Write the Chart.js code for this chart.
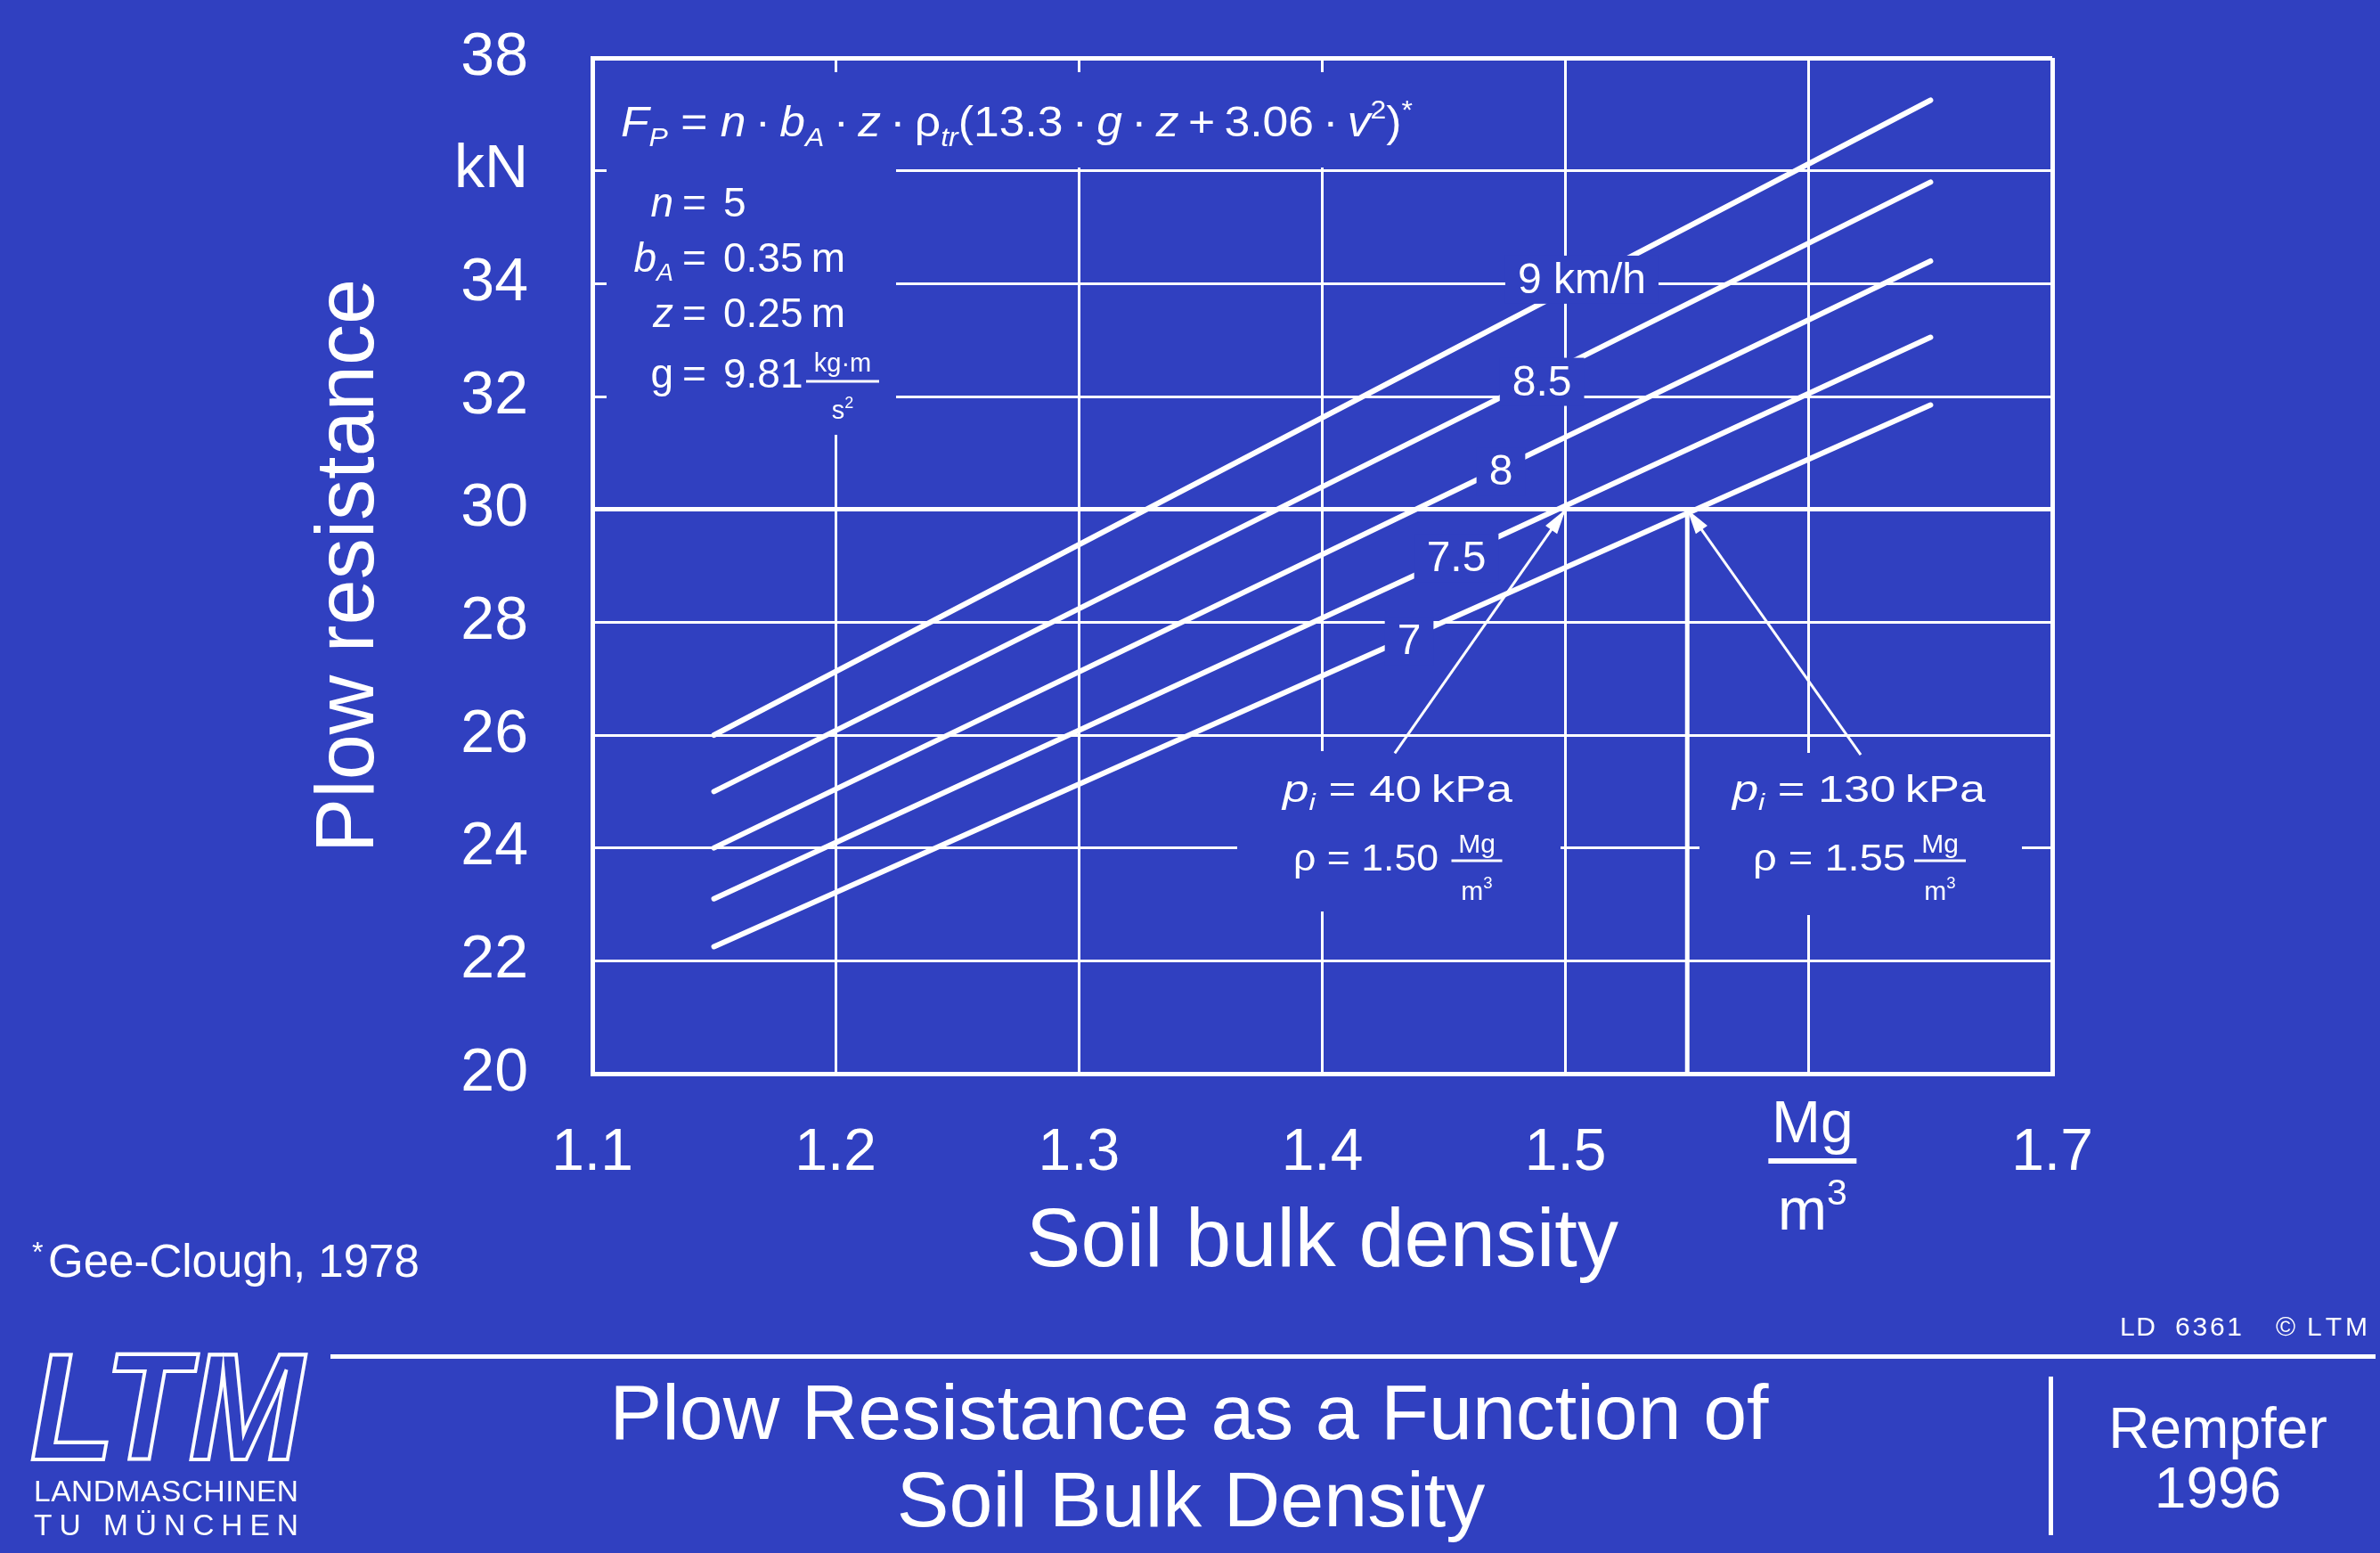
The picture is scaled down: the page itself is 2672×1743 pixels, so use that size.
<!DOCTYPE html>
<html>
<head>
<meta charset="utf-8">
<title>Plow Resistance as a Function of Soil Bulk Density</title>
<script src="https://cdn.jsdelivr.net/npm/chart.js@4.4.1/dist/chart.umd.min.js"></script>
<style>
  html, body { margin: 0; padding: 0; background: #3040c0; }
  canvas { display: block; }
</style>
</head>
<body>
<canvas id="chart-plow" width="2672" height="1743"></canvas>
<script>
const FONT = "'Liberation Sans', Arial, sans-serif";
const BG = '#3040c0';
const FG = '#ffffff';

// soil bulk density at both ends of the speed lines (Mg/m3)
const density = [1.15, 1.65];
// plow resistance (kN) at both ends, one array per speed
const speedLabels = ['9 km/h', '8.5', '8', '7.5', '7'];
const force9 = [26.0, 37.25];
const force85 = [25.0, 35.8];
const force8 = [24.0, 34.4];
const force75 = [23.1, 33.05];
const force7 = [22.25, 31.85];
// where each speed label sits on its line
const labelDensity = [1.5067, 1.4903, 1.4734, 1.4551, 1.4357];
const labelForce = [34.07, 32.26, 30.67, 29.14, 27.67];
// tyre pressure marks (40 kPa -> 1.50, 130 kPa -> 1.55) and arrow tails
const markDensity = [1.50, 1.55];
const markForce = [30, 30];
const arrowTailDensity = [1.4298, 1.6213];
const arrowTailForce = [25.68, 25.65];
// axes
const xTicks = [1.1, 1.2, 1.3, 1.4, 1.5, 1.6, 1.7];
const yTicks = [20, 22, 24, 26, 28, 30, 32, 34, 36, 38];

// draw a run of text pieces: flags i = italic, b = subscript, p = superscript
function rich(ctx, parts, x, y, size, align, fitW) {
    const items = parts.map(function(p) {
        const t = p[0], f = p[1] || '';
        const small = f.includes('b') || f.includes('p');
        const s = small ? size * 0.62 : size;
        const font = (f.includes('i') ? 'italic ' : '') + s + 'px ' + FONT;
        ctx.font = font;
        const dy = f.includes('b') ? size * 0.22 : (f.includes('p') ? -size * 0.42 : 0);
        return { t: t, font: font, w: ctx.measureText(t).width, dy: dy };
    });
    const total = items.reduce(function(a, it) { return a + it.w; }, 0);
    const k = fitW ? fitW / total : 1;
    let cx = align === 'center' ? x - total * k / 2 : (align === 'right' ? x - total * k : x);
    ctx.save();
    ctx.textAlign = 'left';
    ctx.textBaseline = 'alphabetic';
    items.forEach(function(it) {
        ctx.font = it.font;
        ctx.save();
        ctx.translate(cx, y + it.dy);
        ctx.scale(k, 1);
        ctx.fillText(it.t, 0, 0);
        ctx.restore();
        cx += it.w * k;
    });
    ctx.restore();
}

// spread the letters of a text between x0 and x1
function spaced(ctx, text, x0, x1, y) {
    const chars = Array.from(text);
    const ws = chars.map(function(ch) { return ctx.measureText(ch).width; });
    const sum = ws.reduce(function(a, b) { return a + b; }, 0);
    const gap = chars.length > 1 ? (x1 - x0 - sum) / (chars.length - 1) : 0;
    let cx = x0;
    ctx.textAlign = 'left';
    chars.forEach(function(ch, i) { ctx.fillText(ch, cx, y); cx += ws[i] + gap; });
}

function fraction(ctx, num, den, cx, yNum, yBar, yDen, barW, size, barH) {
    rich(ctx, num, cx, yNum, size, 'center');
    rich(ctx, den, cx, yDen, size, 'center');
    ctx.fillRect(cx - barW / 2, yBar - barH / 2, barW, barH);
}

const slidePlugin = {
    id: 'slide',
    beforeDraw: function(chart) {
        const ctx = chart.ctx;
        ctx.save();
        ctx.fillStyle = BG;
        ctx.fillRect(0, 0, chart.width, chart.height);
        ctx.restore();
    },
    beforeDatasetsDraw: function(chart) {
        // cut the grid where the formula and the tyre notes sit
        const ctx = chart.ctx;
        const ca = chart.chartArea;
        ctx.save();
        ctx.fillStyle = BG;
        ctx.fillRect(ca.left + 16, ca.top + 16, 1700 - ca.left - 16, 188 - ca.top - 16);
        ctx.fillRect(ca.left + 16, ca.top + 16, 1006 - ca.left - 16, 488 - ca.top - 16);
        ctx.fillRect(1389, 843, 1752 - 1389, 1023 - 843);
        ctx.fillRect(1908, 845, 2270 - 1908, 1027 - 845);
        ctx.restore();
    },
    afterDatasetsDraw: function(chart) {
        const ctx = chart.ctx;
        const xs = chart.scales.x, ys = chart.scales.y;
        ctx.save();
        // speed labels on their lines
        ctx.font = '48px ' + FONT;
        speedLabels.forEach(function(txt, i) {
            const cx = xs.getPixelForValue(labelDensity[i]);
            const cy = ys.getPixelForValue(labelForce[i]);
            const w = ctx.measureText(txt).width;
            ctx.fillStyle = BG;
            ctx.fillRect(cx - w / 2 - 14, cy - 27, w + 28, 54);
            ctx.fillStyle = FG;
            ctx.textAlign = 'center';
            ctx.textBaseline = 'middle';
            ctx.fillText(txt, cx, cy + 2);
        });
        // arrow heads
        ctx.fillStyle = FG;
        markDensity.forEach(function(d, i) {
            const tx = xs.getPixelForValue(d), ty = ys.getPixelForValue(markForce[i]);
            const sx = xs.getPixelForValue(arrowTailDensity[i]), sy = ys.getPixelForValue(arrowTailForce[i]);
            const a = Math.atan2(ty - sy, tx - sx);
            ctx.beginPath();
            ctx.moveTo(tx, ty);
            ctx.lineTo(tx - 28 * Math.cos(a) + 8 * Math.sin(a), ty - 28 * Math.sin(a) - 8 * Math.cos(a));
            ctx.lineTo(tx - 28 * Math.cos(a) - 8 * Math.sin(a), ty - 28 * Math.sin(a) + 8 * Math.cos(a));
            ctx.closePath();
            ctx.fill();
        });
        ctx.restore();
    },
    afterDraw: function(chart) {
        const ctx = chart.ctx;
        const xs = chart.scales.x;
        ctx.save();
        ctx.fillStyle = FG;
        ctx.strokeStyle = FG;

        // formula
        const dot = '\u2009\u00b7\u2009';
        rich(ctx, [['F', 'i'], ['P', 'ib'], [' = '], ['n', 'i'], [dot], ['b', 'i'], ['A', 'ib'], [dot],
            ['z', 'i'], [dot], ['\u03c1'], ['tr', 'ib'], ['(13.3' + dot], ['g', 'i'], [dot], ['z', 'i'],
            ['\u2009+\u20093.06' + dot], ['v', 'i'], ['2', 'p'], [')'], ['*', 'p']], 697, 153, 48, 'left', 889);

        // parameters
        const eqX = 766, valX = 812;
        [[[['n', 'i']], '5', 243], [[['b', 'i'], ['A', 'ib']], '0.35\u2009m', 305],
         [[['z', 'i']], '0.25\u2009m', 367], [[['g']], '9.81', 435]].forEach(function(row) {
            rich(ctx, row[0], 756, row[2], 46, 'right');
            rich(ctx, [['=']], eqX, row[2], 46, 'left');
            rich(ctx, [[row[1]]], valX, row[2], 46, 'left');
        });
        fraction(ctx, [['kg\u00b7m']], [['s'], ['2', 'p']], 946, 417, 428, 470, 82, 29, 3);

        // tyre notes
        rich(ctx, [['p', 'i'], ['i', 'ib'], [' = 40\u2009kPa']], 1440, 900, 43, 'left', 258);
        rich(ctx, [['\u03c1 = 1.50']], 1452, 977, 43, 'left', 163);
        fraction(ctx, [['Mg']], [['m'], ['3', 'p']], 1658, 957, 966, 1010, 57, 30, 3);
        rich(ctx, [['p', 'i'], ['i', 'ib'], [' = 130\u2009kPa']], 1945, 900, 43, 'left', 284);
        rich(ctx, [['\u03c1 = 1.55']], 1968, 977, 43, 'left', 172);
        fraction(ctx, [['Mg']], [['m'], ['3', 'p']], 2178, 957, 966, 1010, 58, 30, 3);

        // unit in place of the 1.6 tick
        const ux = xs.getPixelForValue(1.6) + 4;
        fraction(ctx, [['Mg']], [['m'], ['3', 'p']], ux, 1282, 1303, 1380, 99, 66, 6);

        // footnote
        rich(ctx, [['*', 'p']], 36, 1438, 52, 'left');
        ctx.font = '51px ' + FONT;
        ctx.textAlign = 'left';
        ctx.fillText('Gee-Clough, 1978', 54, 1433);

        // footer rules
        ctx.fillRect(371, 1520, 2667 - 371, 5);
        ctx.fillRect(2300, 1545, 5, 1723 - 1545);

        // title
        ctx.textAlign = 'center';
        ctx.font = '88px ' + FONT;
        ctx.fillText('Plow Resistance as a Function of', 1335, 1615);
        ctx.fillText('Soil Bulk Density', 1337, 1713);

        // author
        ctx.font = '64px ' + FONT;
        ctx.fillText('Rempfer', 2490, 1625);
        ctx.fillText('1996', 2490, 1692);

        // slide id
        ctx.font = '30px ' + FONT;
        spaced(ctx, 'LD', 2380, 2420, 1499);
        spaced(ctx, '6361', 2442, 2517, 1499);
        ctx.fillText('\u00a9', 2555, 1499);
        spaced(ctx, 'LTM', 2590, 2658, 1499);

        // institute logo
        ctx.font = 'bold italic 165px ' + FONT;
        const m = ctx.measureText('LTM');
        const spanW = m.actualBoundingBoxLeft + m.actualBoundingBoxRight;
        const kx = 308 / spanW, ky = 118 / m.actualBoundingBoxAscent;
        ctx.save();
        ctx.translate(36 + m.actualBoundingBoxLeft * kx, 1638);
        ctx.scale(kx, ky);
        ctx.lineWidth = 4 / ((kx + ky) / 2);
        ctx.lineJoin = 'miter';
        ctx.textAlign = 'left';
        ctx.strokeText('LTM', 0, 0);
        ctx.restore();

        ctx.font = '33.5px ' + FONT;
        spaced(ctx, 'LANDMASCHINEN', 38, 335, 1685);
        spaced(ctx, 'TU M\u00dcNCHEN', 38, 335, 1723);
        ctx.restore();
    }
};

const forces = [force9, force85, force8, force75, force7];
const datasets = forces.map(function(f, i) {
    return {
        label: speedLabels[i],
        data: density.map(function(d, j) { return { x: d, y: f[j] }; }),
        borderColor: FG,
        borderWidth: 6,
        borderCapStyle: 'round',
        pointRadius: 0,
        fill: false
    };
});
// guide line for the 130 kPa point
datasets.push({
    label: 'guide',
    data: [{ x: markDensity[1], y: yTicks[0] }, { x: markDensity[1], y: markForce[1] }],
    borderColor: FG, borderWidth: 5, pointRadius: 0, fill: false
});
// arrow shafts
markDensity.forEach(function(d, i) {
    datasets.push({
        label: 'arrow',
        data: [{ x: arrowTailDensity[i], y: arrowTailForce[i] }, { x: d, y: markForce[i] }],
        borderColor: FG, borderWidth: 3, pointRadius: 0, fill: false
    });
});

Chart.defaults.font.family = FONT;
Chart.defaults.color = FG;

new Chart(document.getElementById('chart-plow').getContext('2d'), {
    type: 'line',
    data: { datasets: datasets },
    options: {
        responsive: false,
        animation: false,
        devicePixelRatio: 1,
        layout: { padding: { left: 0, top: 65, right: 368, bottom: 0 } },
        plugins: { legend: { display: false }, tooltip: { enabled: false } },
        scales: {
            x: {
                type: 'linear',
                min: 1.1,
                max: 1.7,
                afterBuildTicks: function(s) { s.ticks = xTicks.map(function(v) { return { value: v }; }); },
                afterFit: function(s) { s.height = 538; s.paddingLeft = 0; s.paddingRight = 0; },
                ticks: {
                    color: FG,
                    font: { size: 66 },
                    padding: 50,
                    maxRotation: 0,
                    autoSkip: false,
                    callback: function(v) { return Math.abs(v - 1.6) < 1e-9 ? '' : v.toFixed(1); }
                },
                grid: {
                    color: FG,
                    drawTicks: false,
                    lineWidth: function(c) {
                        const v = c.tick ? c.tick.value : 0;
                        return (Math.abs(v - 1.1) < 1e-9 || Math.abs(v - 1.7) < 1e-9) ? 5 : 3;
                    }
                },
                border: { display: true, color: FG, width: 5 },
                title: {
                    display: true,
                    text: 'Soil bulk density',
                    color: FG,
                    font: { size: 92 },
                    padding: { top: 0, bottom: 292 }
                }
            },
            y: {
                type: 'linear',
                min: 20,
                max: 38,
                afterBuildTicks: function(s) { s.ticks = yTicks.map(function(v) { return { value: v }; }); },
                afterFit: function(s) { s.width = 665; s.paddingTop = 0; s.paddingBottom = 0; },
                ticks: {
                    color: FG,
                    font: { size: 68 },
                    padding: 72,
                    autoSkip: false,
                    callback: function(v) { return v === 36 ? 'kN' : String(v); }
                },
                grid: {
                    color: FG,
                    drawTicks: false,
                    lineWidth: function(c) {
                        const v = c.tick ? c.tick.value : 0;
                        return (v === 20 || v === 30 || v === 38) ? 5 : 3;
                    }
                },
                border: { display: true, color: FG, width: 5 },
                title: {
                    display: true,
                    text: 'Plow resistance',
                    color: FG,
                    font: { size: 92 },
                    padding: { top: 338, bottom: 0 }
                }
            }
        }
    },
    plugins: [slidePlugin]
});
</script>
</body>
</html>
